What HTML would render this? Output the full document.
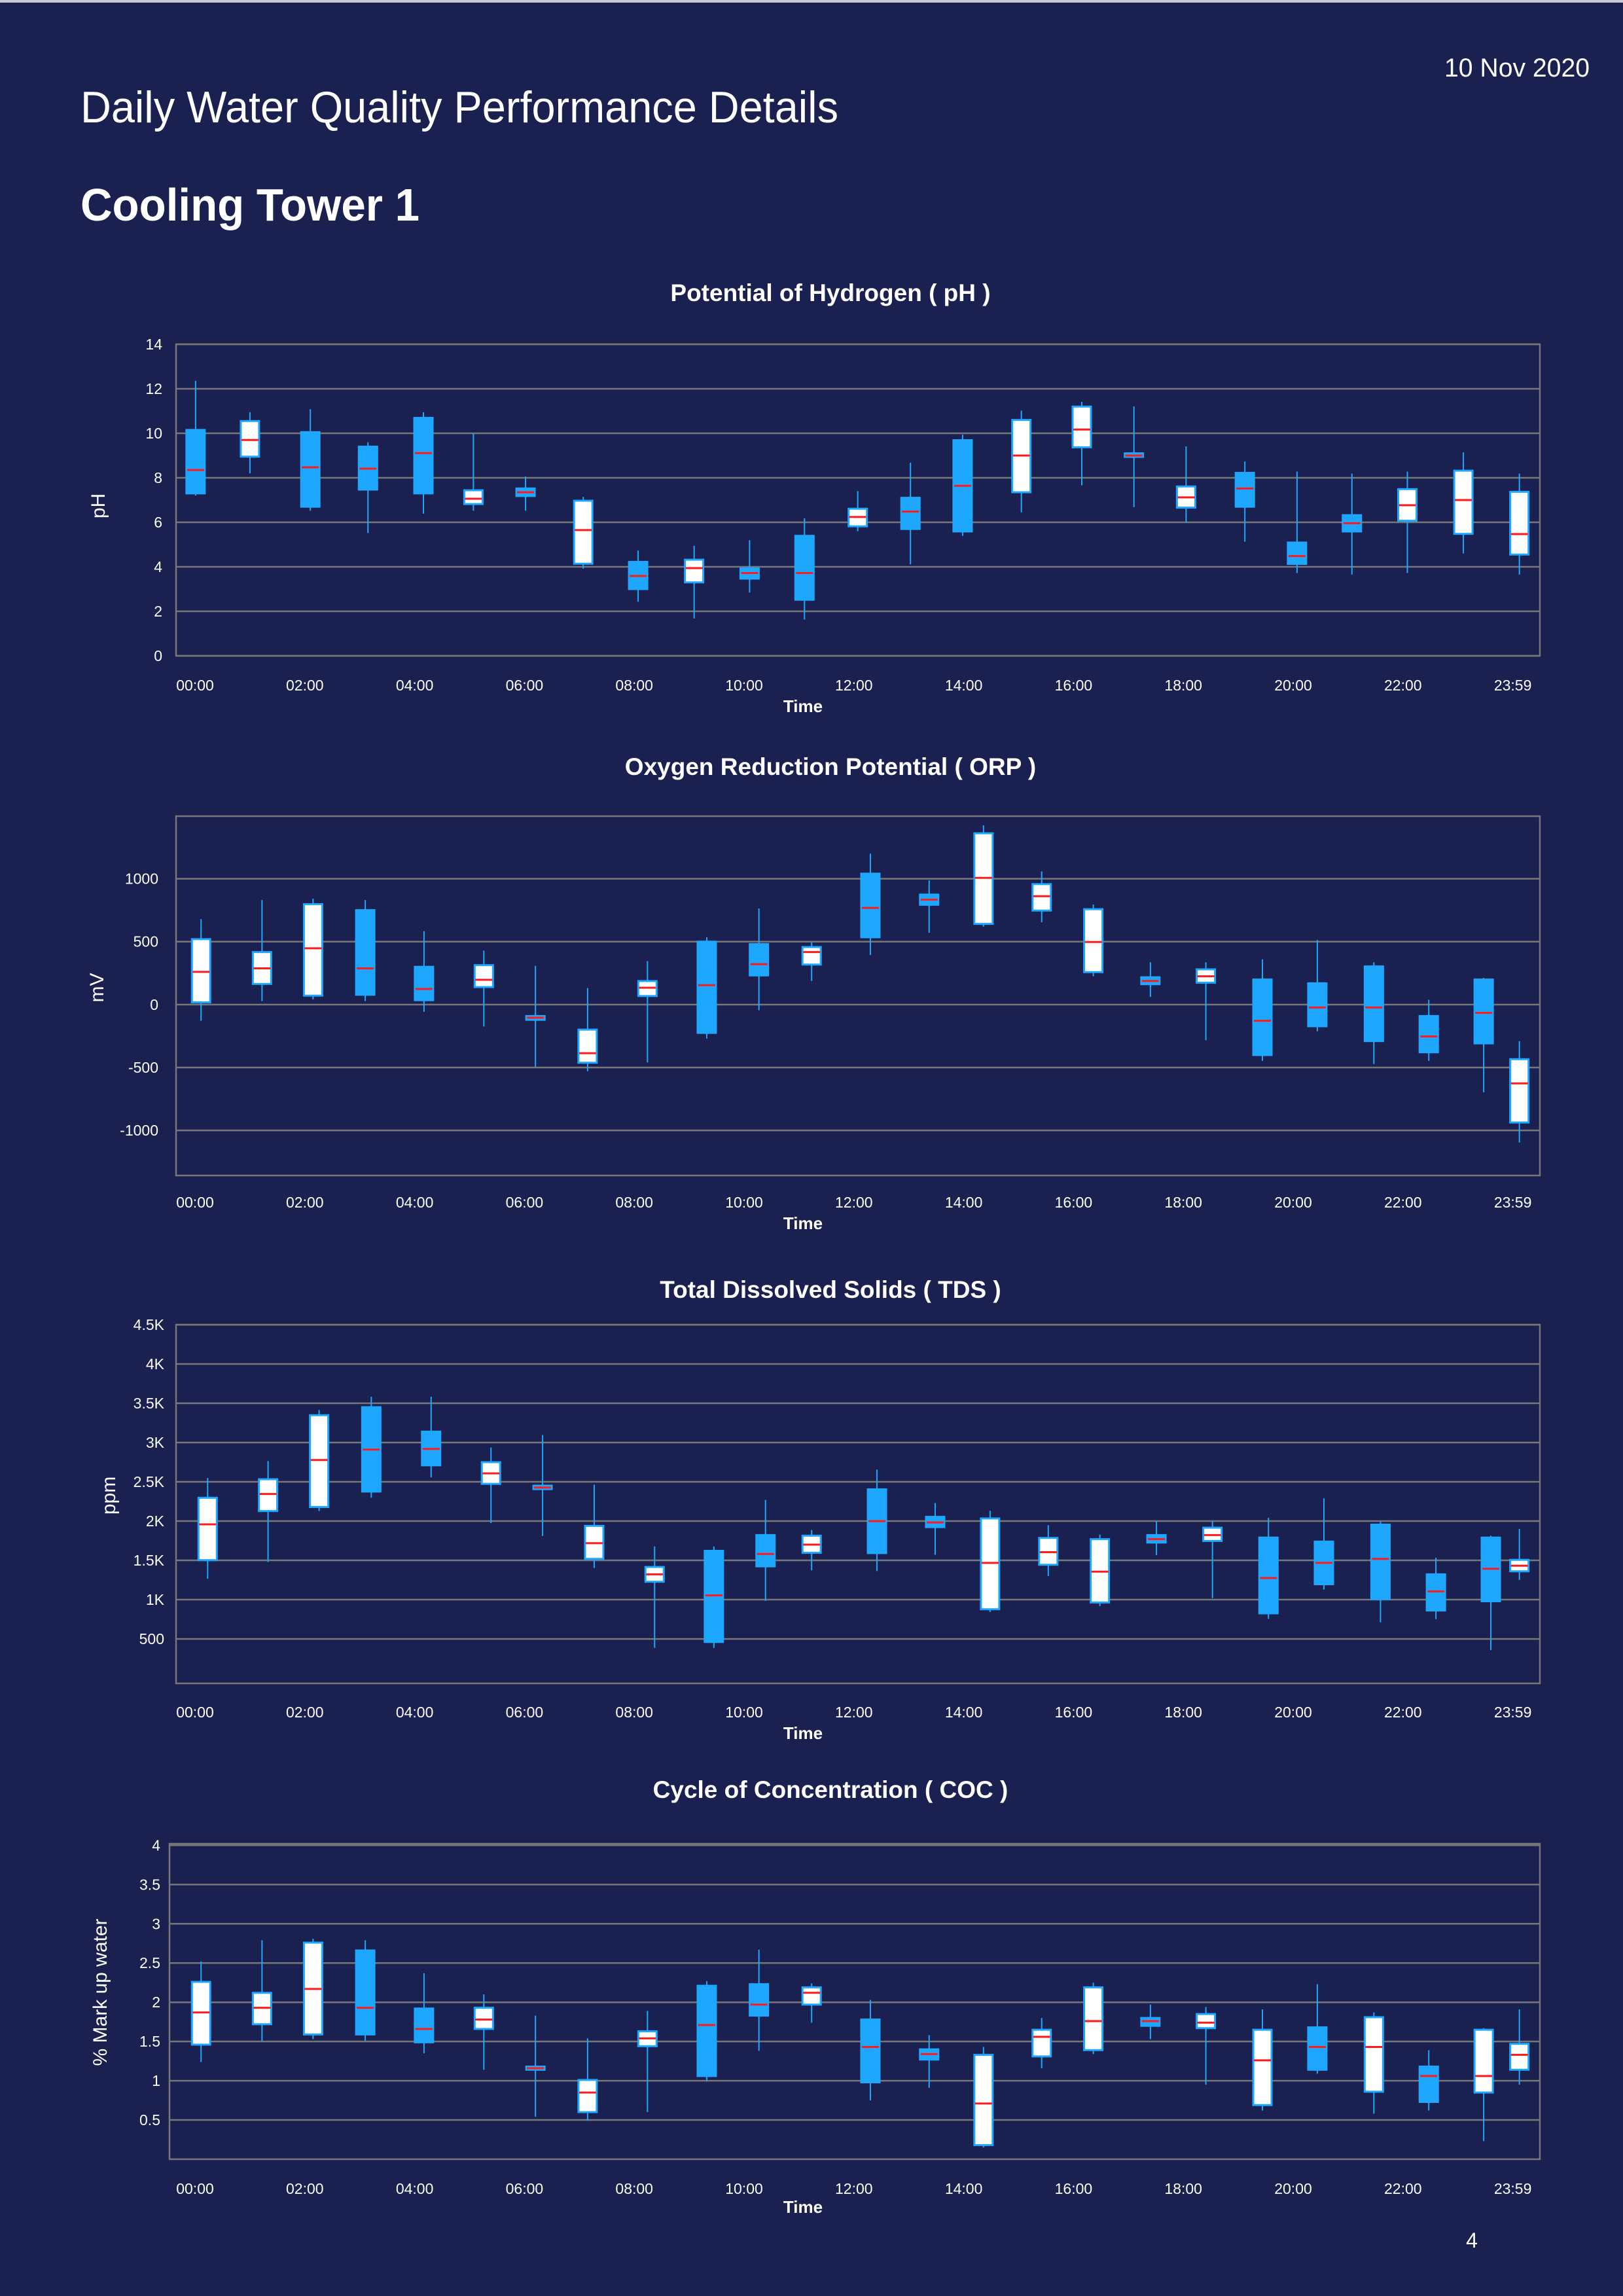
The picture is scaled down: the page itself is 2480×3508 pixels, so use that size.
<!DOCTYPE html>
<html>
<head>
<meta charset="utf-8">
<style>
html,body{margin:0;padding:0;background:#1a2050;}
body{width:2480px;height:3508px;overflow:hidden;font-family:"Liberation Sans",sans-serif;}
svg{display:block;}
</style>
</head>
<body>
<svg id="page" width="2480" height="3508" viewBox="0 0 2480 3508" xmlns="http://www.w3.org/2000/svg" font-family="Liberation Sans, sans-serif">
<rect x="0" y="0" width="2480" height="3508" fill="#1a2050"/>
<rect x="0" y="0" width="2480" height="4" fill="#c8cad8"/>
<text x="2429" y="117" font-size="40" fill="#fff" text-anchor="end" textLength="222" lengthAdjust="spacingAndGlyphs">10 Nov 2020</text>
<text x="123" y="187" font-size="68" fill="#fff" font-weight="300" textLength="1158" lengthAdjust="spacingAndGlyphs">Daily Water Quality Performance Details</text>
<text x="123" y="337" font-size="70" fill="#fff" font-weight="bold" textLength="518" lengthAdjust="spacingAndGlyphs">Cooling Tower 1</text>
<text x="2249" y="3434" font-size="32" fill="#fff" text-anchor="middle">4</text>
<g id="charts"></g>
</svg>
<script>
// ---- shared x-axis ----
const xTickLabels = ["00:00","02:00","04:00","06:00","08:00","10:00","12:00","14:00","16:00","18:00","20:00","22:00","23:59"];
const xTickHours = [0,2,4,6,8,10,12,14,16,18,20,22,24];

// ---- pH ----
const phTimes = [0.01,1.0,2.1,3.15,4.16,5.07,6.02,7.07,8.07,9.09,10.1,11.1,12.07,13.03,13.98,15.05,16.15,17.1,18.05,19.12,20.07,21.07,22.08,23.1,24.12];
const phBoxes = [[7.2,7.3,8.35,10.15,12.36],[8.2,8.95,9.7,10.55,10.95],[6.52,6.7,8.47,10.05,11.08],[5.52,7.47,8.41,9.4,9.6],[6.39,7.3,9.11,10.69,10.95],[6.52,6.82,7.06,7.44,9.99],[6.52,7.18,7.35,7.52,8.06],[3.92,4.14,5.65,6.97,7.14],[2.43,3.0,3.59,4.22,4.73],[1.68,3.3,3.94,4.32,4.94],[2.84,3.47,3.72,3.93,5.19],[1.63,2.52,3.72,5.39,6.18],[5.6,5.82,6.24,6.61,7.4],[4.11,5.7,6.48,7.1,8.68],[5.39,5.59,7.64,9.69,9.94],[6.45,7.35,9.0,10.6,11.02],[7.66,9.37,10.17,11.2,11.41],[6.68,8.94,9.0,9.1,11.21],[5.99,6.66,7.12,7.61,9.41],[5.13,6.7,7.52,8.22,8.73],[3.72,4.13,4.48,5.09,8.28],[3.65,5.59,5.96,6.32,8.19],[3.72,6.07,6.77,7.49,8.28],[4.6,5.48,7.0,8.32,9.14],[3.65,4.55,5.47,7.37,8.19]];
const phFilled = [1,0,1,1,1,0,1,0,1,0,1,1,0,1,1,0,0,1,0,1,1,1,0,0,0];
const phYTicks = [0,2,4,6,8,10,12,14];
const phYTickLabels = ["0","2","4","6","8","10","12","14"];

// ---- ORP ----
const orpTimes = [0.11,1.22,2.15,3.1,4.17,5.26,6.2,7.15,8.24,9.32,10.27,11.23,12.3,13.37,14.36,15.42,16.36,17.4,18.41,19.44,20.44,21.47,22.47,23.47,24.12];
const orpBoxes = [[-129,18,260,520,679],[28,164,288,417,831],[40,71,447,798,841],[28,78,288,750,831],[-58,35,124,300,583],[-174,139,197,313,429],[-495,-121,-104,-91,308],[-530,-462,-386,-199,131],[-460,68,134,187,346],[-270,-225,154,500,535],[-45,232,321,480,763],[187,318,417,457,495],[394,535,768,1040,1199],[571,793,833,874,987],[619,641,1007,1361,1424],[654,747,861,957,1058],[225,258,497,758,795],[61,162,187,217,336],[-283,174,225,280,336],[-447,-401,-129,199,359],[-212,-172,-23,169,513],[-472,-290,-23,303,336],[-447,-379,-253,-91,38],[-697,-308,-66,199,212],[-1096,-937,-626,-434,-290]];
const orpFilled = [0,0,0,1,1,0,1,0,0,1,1,0,1,1,0,0,0,1,0,1,1,1,1,1,0];
const orpYTicks = [-1000,-500,0,500,1000];
const orpYTickLabels = ["-1000","-500","0","500","1000"];

// ---- TDS ----
const tdsTimes = [0.23,1.33,2.26,3.21,4.3,5.39,6.33,7.27,8.37,9.45,10.39,11.23,12.42,13.48,14.48,15.54,16.48,17.51,18.53,19.55,20.56,21.59,22.6,23.6,24.12];
const tdsBoxes = [[1267,1503,1959,2297,2549],[1479,2128,2345,2533,2765],[2128,2179,2777,3348,3414],[2297,2376,2911,3450,3583],[2557,2710,2919,3139,3583],[1975,2474,2608,2750,2938],[1810,2407,2427,2451,3096],[1405,1519,1719,1939,2463],[386,1228,1322,1416,1676],[386,461,1055,1621,1676],[984,1424,1582,1822,2270],[1373,1597,1700,1814,1888],[1365,1593,1999,2404,2655],[1570,1924,1983,2054,2231],[842,878,1468,2034,2132],[1302,1444,1605,1786,1947],[917,964,1357,1770,1829],[1566,1727,1770,1822,1999],[1019,1747,1822,1916,1999],[755,826,1275,1790,2042],[1129,1196,1468,1739,2290],[712,1007,1519,1955,1999],[752,862,1106,1322,1534],[358,980,1393,1790,1814],[1251,1361,1432,1507,1900]];
const tdsFilled = [0,0,0,1,1,0,1,0,0,1,1,0,1,1,0,0,0,1,0,1,1,1,1,1,0];
const tdsYTicks = [500,1000,1500,2000,2500,3000,3500,4000,4500];
const tdsYTickLabels = ["500","1K","1.5K","2K","2.5K","3K","3.5K","4K","4.5K"];

// ---- COC ----
const cocTimes = [0.11,1.22,2.15,3.1,4.17,5.26,6.2,7.15,8.24,9.32,10.27,11.23,12.3,13.37,14.36,15.42,16.36,17.4,18.41,19.44,20.44,21.47,22.47,23.47,24.12];
const cocBoxes = [[1.24,1.46,1.87,2.26,2.52],[1.51,1.72,1.93,2.12,2.79],[1.53,1.59,2.17,2.76,2.81],[1.51,1.59,1.93,2.66,2.79],[1.35,1.49,1.66,1.92,2.37],[1.14,1.66,1.78,1.93,2.10],[0.54,1.14,1.16,1.18,1.83],[0.49,0.60,0.85,1.01,1.54],[0.60,1.44,1.54,1.63,1.89],[0.99,1.06,1.71,2.21,2.27],[1.38,1.83,1.97,2.23,2.67],[1.74,1.97,2.12,2.19,2.24],[0.75,0.98,1.43,1.78,2.03],[0.91,1.27,1.34,1.40,1.58],[0.15,0.18,0.71,1.33,1.43],[1.16,1.31,1.56,1.65,1.80],[1.34,1.39,1.76,2.19,2.25],[1.53,1.70,1.76,1.80,1.97],[0.95,1.67,1.74,1.85,1.94],[0.62,0.69,1.26,1.65,1.91],[1.09,1.14,1.43,1.68,2.23],[0.58,0.86,1.43,1.81,1.87],[0.62,0.73,1.06,1.18,1.39],[0.23,0.85,1.06,1.65,1.67],[0.95,1.14,1.33,1.47,1.91]];
const cocFilled = [0,0,0,1,1,0,1,0,0,1,1,0,1,1,0,0,0,1,0,0,1,0,1,0,0];
const cocYTicks = [0.5,1,1.5,2,2.5,3,3.5,4];
const cocYTickLabels = ["0.5","1","1.5","2","2.5","3","3.5","4"];

const NS = "http://www.w3.org/2000/svg";
const root = document.getElementById("charts");
function mk(tag, attrs, parent){
  const e = document.createElementNS(NS, tag);
  for (const k in attrs) e.setAttribute(k, attrs[k]);
  (parent||root).appendChild(e);
  return e;
}
const xScale = h => 298 + h * 83.9;

function drawChart(c){
  const g = mk("g", {});
  
  
  const yScale = v => c.bottom - (v - c.ymin) / (c.ymax - c.ymin) * (c.bottom - c.top);
  // title
  const t = mk("text", {x:1269, y:c.titleY, "font-size":37, "font-weight":"bold", fill:"#fff", "text-anchor":"middle"}, g);
  t.textContent = c.title;
  
  
  // gridlines & y ticks
  c.yTicks.forEach((v,i)=>{
    const y = yScale(v);
    const gl = mk("line", {x1:c.left, x2:2353, y1:y, y2:y, stroke:"#777", "stroke-width":2.5}, g);
    
    
    const tl = mk("text", {x:c.labelRight, y:y+8, "font-size":23, fill:"#fff", "text-anchor":"end"}, g);
    tl.textContent = c.yLabels[i];
    
    
  });
  // frame
  const fr = mk("rect", {x:c.left, y:c.top, width:2353-c.left, height:c.bottom-c.top, fill:"none", stroke:"#777", "stroke-width":2.5}, g);
  
  
  // x tick labels
  xTickHours.forEach((h,i)=>{
    const tl = mk("text", {x:xScale(h), y:c.xLabelY, "font-size":23, fill:"#fff", "text-anchor":"middle"}, g);
    tl.textContent = xTickLabels[i];
    
    
  });
  const xt = mk("text", {x:1227, y:c.xTitleY, "font-size":26, "font-weight":"bold", fill:"#fff", "text-anchor":"middle"}, g);
  xt.textContent = "Time";
  
  
  const yt = mk("text", {x:0, y:0, "font-size":30, fill:"#fff", "text-anchor":"middle", transform:"translate("+c.yTitleX+","+c.yTitleY+") rotate(-90)"}, g);
  yt.textContent = c.yTitle;
  
  
  // boxes
  const w = 28;
  c.boxes.forEach((b,i)=>{
    const cx = xScale(c.times[i]);
    const bg = mk("g", {}, g);
    
    
    const wh = mk("line", {x1:cx, x2:cx, y1:yScale(b[0]), y2:yScale(b[4]), stroke:"#1ea7ff", "stroke-width":2}, bg);
    
    
    const rc = mk("rect", {x:cx-w/2, y:yScale(b[3]), width:w, height:Math.max(2, yScale(b[1])-yScale(b[3])), fill:c.filled[i]?"#1ea7ff":"#ffffff", stroke:"#1ea7ff", "stroke-width":3}, bg);
    
    
    const md = mk("line", {x1:cx-w/2+1, x2:cx+w/2-1, y1:yScale(b[2]), y2:yScale(b[2]), stroke:"#ff1a1a", "stroke-width":3}, bg);
    
    
  });
}

drawChart({key:"ph", title:"Potential of Hydrogen ( pH )", titleY:460, top:526, bottom:1002, left:269, ymin:0, ymax:14,
  yTicks:phYTicks, yLabels:phYTickLabels, labelRight:248, xLabelY:1055, xTitleY:1088, yTitle:"pH", yTitleX:160, yTitleY:773,
  times:phTimes, boxes:phBoxes, filled:phFilled});
drawChart({key:"orp", title:"Oxygen Reduction Potential ( ORP )", titleY:1184, top:1247, bottom:1796, left:269, ymin:-1358, ymax:1497,
  yTicks:orpYTicks, yLabels:orpYTickLabels, labelRight:242, xLabelY:1845, xTitleY:1878, yTitle:"mV", yTitleX:158, yTitleY:1509,
  times:orpTimes, boxes:orpBoxes, filled:orpFilled});
drawChart({key:"tds", title:"Total Dissolved Solids ( TDS )", titleY:1983, top:2024, bottom:2572, left:269, ymin:-66, ymax:4500,
  yTicks:tdsYTicks, yLabels:tdsYTickLabels, labelRight:251, xLabelY:2624, xTitleY:2657, yTitle:"ppm", yTitleX:176, yTitleY:2285,
  times:tdsTimes, boxes:tdsBoxes, filled:tdsFilled});
drawChart({key:"coc", title:"Cycle of Concentration ( COC )", titleY:2747, top:2817, bottom:3299, left:259, ymin:0, ymax:4.02,
  yTicks:cocYTicks, yLabels:cocYTickLabels, labelRight:245, xLabelY:3352, xTitleY:3381, yTitle:"% Mark up water", yTitleX:163, yTitleY:3044,
  times:cocTimes, boxes:cocBoxes, filled:cocFilled});
</script>
</body>
</html>
